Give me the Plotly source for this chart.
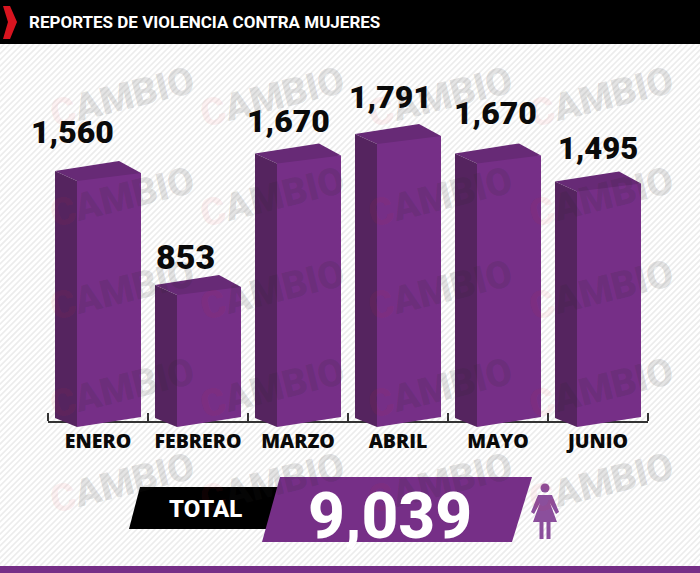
import numpy as np
import plotly.graph_objects as go

W, H = 700, 573

months = ["ENERO", "FEBRERO", "MARZO", "ABRIL", "MAYO", "JUNIO"]
reports = [1560, 853, 1670, 1791, 1670, 1495]
value_labels = ["1,560", "853", "1,670", "1,791", "1,670", "1,495"]
total_label = "9,039"

PURPLE = "#762f87"
PURPLE_TOP = "#672a76"
PURPLE_SIDE = "#55245f"

# pixels per report
PX_X = 100.0
PX_Y = 0.1612
BAR_BASE = 47
Y_RANGE = [-46, 2361]
X_OFFSET = 0.11


def px(x):
    return x / W


def py(y):
    return 1 - y / H


def poly(xs, ys):
    return "M" + " L".join(f"{px(x):.4f},{py(y):.4f}" for x, y in zip(xs, ys)) + " Z"


def face(i, value, dxs, dys, color):
    # one face of a box, corners given in pixels from the top right corner of the front
    right = i + X_OFFSET + 0.32
    xs = [right + d / PX_X for d in dxs]
    ys = [value - d / PX_Y for d in dys]
    return go.Scatter(x=xs + xs[:1], y=ys + ys[:1], mode="lines", fill="toself", fillcolor=color,
                      line=dict(width=0), hoverinfo="skip", showlegend=False)


fig = go.Figure()
xpos = np.arange(len(months))

fig.add_trace(go.Bar(x=xpos + X_OFFSET, y=[v - BAR_BASE for v in reports], base=BAR_BASE, width=0.64,
                     marker=dict(color=PURPLE, line=dict(width=0)), showlegend=False))
for i, v in enumerate(reports):
    h = (v - BAR_BASE) * PX_Y
    fig.add_trace(face(i, v, [-86, -22, 0, -64], [-2, -12, 0, 8], PURPLE_TOP))
    fig.add_trace(face(i, BAR_BASE, [-86, -64, -64, -86], [1, 10, 8 - h, -2 - h], PURPLE_SIDE))
    fig.add_trace(face(i, BAR_BASE, [-64, 0, -64], [0, 0, 10], PURPLE))

# background stripes
stripes = ""
for c in range(0, W + H, 6):
    stripes += f"M{px(c - H):.4f},{py(H):.4f} L{px(c):.4f},{py(0):.4f} "

shapes = [
    dict(type="path", path=stripes, xref="paper", yref="paper", line=dict(color="#ececec", width=1.6), layer="below"),
    dict(type="rect", x0=0, x1=1, y0=py(44), y1=1, xref="paper", yref="paper", fillcolor="#000000", line_width=0),
    dict(type="path", path=poly([3, 10, 17, 10, 3, 8], [6, 6, 22, 39, 39, 22]), xref="paper", yref="paper",
         fillcolor="#d7141f", line_width=0),
    dict(type="rect", x0=0, x1=1, y0=0, y1=py(566), xref="paper", yref="paper", fillcolor=PURPLE, line_width=0),
    dict(type="path", path=poly([140, 285, 270, 129], [487, 487, 529, 529]), xref="paper", yref="paper",
         fillcolor="#000000", line_width=0),
    dict(type="path", path=poly([280, 532, 512, 262], [477, 477, 542, 542]), xref="paper", yref="paper",
         fillcolor=PURPLE, line_width=0),
    # woman icon
    dict(type="circle", x0=px(540.5), x1=px(549.5), y0=py(492.5), y1=py(483.5), xref="paper", yref="paper",
         fillcolor="#8b4f9c", line_width=0),
    dict(type="path", xref="paper", yref="paper", fillcolor="#8b4f9c", line_width=0,
         path=poly([538, 552, 559, 556, 550, 557, 533, 540, 534, 531],
                   [495, 495, 512, 514, 503, 522, 522, 503, 514, 512])),
    dict(type="rect", x0=px(539.5), x1=px(543.5), y0=py(539), y1=py(522), xref="paper", yref="paper",
         fillcolor="#8b4f9c", line_width=0),
    dict(type="rect", x0=px(546.5), x1=px(550.5), y0=py(539), y1=py(522), xref="paper", yref="paper",
         fillcolor="#8b4f9c", line_width=0),
]

annotations = []
for cx in [122, 272, 440, 601]:
    for cy in [97, 197, 290, 388, 483]:
        annotations.append(dict(
            x=px(cx), y=py(cy), xref="paper", yref="paper", xanchor="center", yanchor="middle",
            showarrow=False, textangle=-14,
            text='<span style="color:rgba(225,40,50,0.6)">C</span>AMBIO',
            font=dict(family="Roboto", size=38, weight=900, color="rgba(40,40,40,0.14)")))

label_dx = [-26, -13, -10, -8, -3, 0]
label_dy = [41, 30, 34, 39, 42, 35]
label_sizes = [32, 34, 32, 32, 32, 31]
for i, (v, lab) in enumerate(zip(reports, value_labels)):
    annotations.append(dict(
        x=i, y=v, xref="x", yref="y", text=lab, showarrow=False, xshift=label_dx[i], yshift=label_dy[i],
        xanchor="center", yanchor="middle",
        font=dict(family="Roboto", size=label_sizes[i], weight=900, color="#0a0a0a")))

annotations += [
    dict(x=px(27), y=py(22), xref="paper", yref="paper", xanchor="left", yanchor="middle", showarrow=False,
         text="REPORTES DE VIOLENCIA CONTRA MUJERES",
         font=dict(family="Roboto", size=17, weight=700, color="#ffffff")),
    dict(x=px(205), y=py(509), xref="paper", yref="paper", xanchor="center", yanchor="middle", showarrow=False,
         text="TOTAL", font=dict(family="Roboto", size=24, weight=800, color="#ffffff")),
    dict(x=px(390), y=py(516), xref="paper", yref="paper", xanchor="center", yanchor="middle", showarrow=False,
         text=total_label, font=dict(family="Roboto", size=64, weight=800, color="#ffffff")),
]

fig.update_layout(
    width=W, height=H,
    margin=dict(l=0, r=0, t=0, b=0),
    paper_bgcolor="#ffffff",
    plot_bgcolor="rgba(0,0,0,0)",
    showlegend=False,
    shapes=shapes,
    annotations=annotations,
    xaxis=dict(
        domain=[48 / W, 648 / W], range=[-0.5, 5.5], tickmode="array", tickvals=list(xpos), ticktext=months,
        anchor="free", position=py(422),
        ticks="", showgrid=False, zeroline=False, showline=True, linecolor="#333333", linewidth=2,
        layer="below traces", ticklabelstandoff=2,
        tickfont=dict(family="Open Sans", size=19.5, weight=800, color="#0a0a0a"),
        minor=dict(ticks="inside", ticklen=8, tickwidth=2, tickcolor="#333333", tick0=-0.5, dtick=1, showgrid=False),
    ),
    yaxis=dict(domain=[py(432), py(44)], range=Y_RANGE, visible=False),
)

fig.write_html("out.html", config=dict(displayModeBar=False), post_script="document.body.style.margin='0';")
